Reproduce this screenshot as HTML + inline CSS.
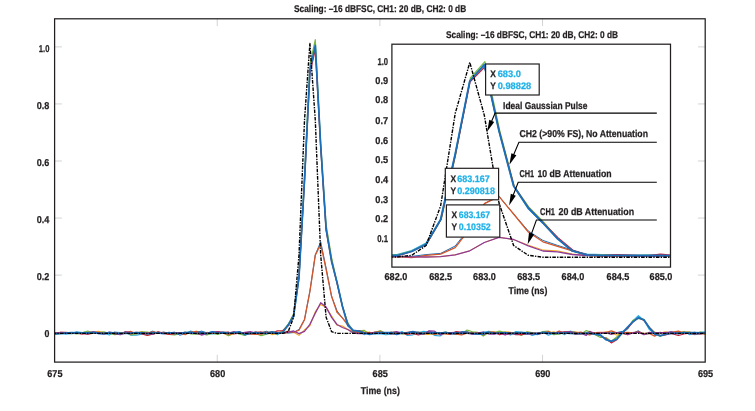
<!DOCTYPE html>
<html lang="en"><head><meta charset="utf-8"><title>Pulse chart</title>
<style>html,body{margin:0;padding:0;background:#fff}body{width:755px;height:411px;overflow:hidden}svg text{white-space:pre;text-rendering:geometricPrecision}</style></head>
<body>
<svg width="755" height="411" viewBox="0 0 755 411" style="display:block">
<rect x="0" y="0" width="755" height="411" fill="#ffffff"/>
<line x1="54.6" y1="46.90" x2="61.9" y2="46.90" stroke="#d1d3d4" stroke-width="1"/>
<line x1="705.2" y1="46.90" x2="697.9000000000001" y2="46.90" stroke="#d1d3d4" stroke-width="1"/>
<line x1="54.6" y1="103.95" x2="61.9" y2="103.95" stroke="#d1d3d4" stroke-width="1"/>
<line x1="705.2" y1="103.95" x2="697.9000000000001" y2="103.95" stroke="#d1d3d4" stroke-width="1"/>
<line x1="54.6" y1="161.00" x2="61.9" y2="161.00" stroke="#d1d3d4" stroke-width="1"/>
<line x1="705.2" y1="161.00" x2="697.9000000000001" y2="161.00" stroke="#d1d3d4" stroke-width="1"/>
<line x1="54.6" y1="218.05" x2="61.9" y2="218.05" stroke="#d1d3d4" stroke-width="1"/>
<line x1="705.2" y1="218.05" x2="697.9000000000001" y2="218.05" stroke="#d1d3d4" stroke-width="1"/>
<line x1="54.6" y1="275.10" x2="61.9" y2="275.10" stroke="#d1d3d4" stroke-width="1"/>
<line x1="705.2" y1="275.10" x2="697.9000000000001" y2="275.10" stroke="#d1d3d4" stroke-width="1"/>
<line x1="217.25" y1="18.8" x2="217.25" y2="26.1" stroke="#d1d3d4" stroke-width="1"/>
<line x1="217.25" y1="362.1" x2="217.25" y2="354.8" stroke="#d1d3d4" stroke-width="1"/>
<line x1="379.90" y1="18.8" x2="379.90" y2="26.1" stroke="#d1d3d4" stroke-width="1"/>
<line x1="379.90" y1="362.1" x2="379.90" y2="354.8" stroke="#d1d3d4" stroke-width="1"/>
<line x1="542.55" y1="18.8" x2="542.55" y2="26.1" stroke="#d1d3d4" stroke-width="1"/>
<line x1="542.55" y1="362.1" x2="542.55" y2="354.8" stroke="#d1d3d4" stroke-width="1"/>
<clipPath id="cm"><rect x="54.6" y="18.8" width="650.6" height="343.3"/></clipPath>
<g clip-path="url(#cm)">
<polyline points="44.3,333.4 49.7,332.5 55.1,333.4 60.6,333.5 66.0,334.2 71.4,333.3 76.8,331.8 82.2,332.6 87.7,331.9 93.1,332.8 98.5,332.6 103.9,332.9 109.3,335.0 114.8,332.1 120.2,332.5 125.6,332.5 131.0,335.1 136.4,335.1 141.9,334.1 147.3,333.6 152.7,332.7 158.1,333.2 163.5,332.5 169.0,333.8 174.4,332.7 179.8,332.6 185.2,333.9 190.6,331.1 196.1,332.5 201.5,331.7 206.9,333.8 212.3,334.0 217.7,333.5 223.2,333.2 228.6,332.4 234.0,332.8 239.4,333.6 244.8,334.2 250.3,333.7 255.7,331.7 261.1,334.0 266.5,332.8 271.9,332.6 277.4,334.8 282.8,331.6 288.2,324.0 293.6,317.2 299.0,278.4 304.5,180.1 309.9,71.6 315.3,45.4 320.7,145.5 326.1,229.5 331.6,259.6 337.0,282.2 342.4,305.6 347.8,323.3 353.2,330.4 358.7,331.2 364.1,334.6 369.5,332.4 374.9,333.8 380.3,333.6 385.8,334.6 391.2,334.2 396.6,333.7 402.0,331.6 407.4,335.5 412.9,334.8 418.3,332.8 423.7,331.4 429.1,332.4 434.5,335.3 440.0,336.0 445.4,332.7 450.8,334.0 456.2,334.4 461.6,332.0 467.1,331.8 472.5,332.9 477.9,332.8 483.3,332.6 488.7,331.3 494.2,332.4 499.6,332.5 505.0,332.5 510.4,334.9 515.8,331.6 521.3,332.0 526.7,332.5 532.1,335.4 537.5,333.8 542.9,332.1 548.4,335.2 553.8,333.3 559.2,331.9 564.6,334.6 570.0,331.2 575.5,332.5 580.9,333.3 586.3,332.7 589.7,332.3 595.1,333.3 600.5,334.4 605.9,339.7 611.3,342.0 616.8,337.4 622.2,333.1 627.6,328.9 633.0,320.7 638.4,315.7 643.9,320.3 649.3,329.5 654.7,333.3 660.1,335.6 665.5,334.6 671.0,331.5 678.4,334.3 683.9,331.6 689.3,334.6 694.7,334.0 700.1,332.4 705.5,331.8 711.0,332.1" fill="none" stroke="#2aace2" stroke-width="1.2" stroke-linejoin="round" />
<polyline points="44.3,332.8 49.7,333.0 55.1,333.0 60.6,332.6 66.0,333.3 71.4,332.9 76.8,332.6 82.2,333.1 87.7,332.4 93.1,332.6 98.5,331.4 103.9,332.8 109.3,333.5 114.8,333.4 120.2,333.1 125.6,332.3 131.0,333.4 136.4,332.8 141.9,331.5 147.3,335.3 152.7,334.1 158.1,332.9 163.5,332.8 169.0,332.9 174.4,333.5 179.8,332.5 185.2,332.9 190.6,333.6 196.1,331.0 201.5,332.8 206.9,333.6 212.3,333.2 217.7,333.3 223.2,333.2 228.6,335.5 234.0,333.5 239.4,332.2 244.8,334.1 250.3,333.2 255.7,332.3 261.1,332.4 266.5,331.8 271.9,334.6 277.4,333.4 282.8,333.4 288.2,332.6 293.6,332.2 299.0,335.4 304.5,329.8 309.9,325.9 315.3,311.6 320.7,304.4 326.1,307.4 331.6,316.1 337.0,325.1 342.4,326.0 347.8,329.5 353.2,331.5 358.7,333.2 364.1,331.8 369.5,332.2 374.9,333.4 380.3,330.7 385.8,334.1 391.2,332.3 396.6,333.3 402.0,333.0 407.4,332.5 412.9,332.9 418.3,332.5 423.7,334.4 429.1,334.4 434.5,332.6 440.0,333.9 445.4,334.0 450.8,334.4 456.2,332.0 461.6,332.5 467.1,331.8 472.5,333.9 477.9,333.1 483.3,334.1 488.7,332.4 494.2,331.7 499.6,333.9 505.0,331.7 510.4,332.2 515.8,333.3 521.3,334.8 526.7,331.9 532.1,333.2 537.5,333.6 542.9,332.8 548.4,332.7 553.8,331.8 559.2,334.0 564.6,332.1 570.0,331.8 575.5,331.8 580.9,333.3 586.3,333.7 589.7,332.2 595.1,333.0 600.5,333.0 605.9,331.9 611.3,333.3 616.8,335.1 622.2,333.4 627.6,334.7 633.0,332.4 638.4,332.8 643.9,333.6 649.3,333.1 654.7,332.4 660.1,333.0 665.5,331.9 671.0,333.2 678.4,332.2 683.9,331.8 689.3,331.7 694.7,333.7 700.1,332.3 705.5,334.7 711.0,334.0" fill="none" stroke="#f5a81c" stroke-width="1.1" stroke-linejoin="round" />
<polyline points="44.3,335.4 49.7,331.9 55.1,334.5 60.6,333.1 66.0,333.3 71.4,333.1 76.8,333.8 82.2,332.8 87.7,331.0 93.1,333.0 98.5,332.5 103.9,331.9 109.3,333.3 114.8,334.6 120.2,333.7 125.6,331.9 131.0,335.0 136.4,333.8 141.9,331.9 147.3,332.2 152.7,333.1 158.1,332.2 163.5,332.9 169.0,334.5 174.4,334.9 179.8,333.8 185.2,332.0 190.6,333.8 196.1,334.1 201.5,334.0 206.9,334.9 212.3,333.2 217.7,334.5 223.2,332.7 228.6,335.8 234.0,332.7 239.4,333.8 244.8,335.4 250.3,332.3 255.7,333.4 261.1,335.7 266.5,334.1 271.9,332.8 277.4,333.6 282.8,330.7 288.2,324.5 293.6,313.7 299.0,276.5 304.5,175.4 309.9,64.6 315.3,39.7 320.7,144.1 326.1,224.7 331.6,257.6 337.0,282.3 342.4,306.7 347.8,322.6 353.2,332.8 358.7,330.8 364.1,330.3 369.5,334.2 374.9,332.3 380.3,330.9 385.8,333.2 391.2,332.4 396.6,332.1 402.0,334.2 407.4,333.2 412.9,332.8 418.3,332.1 423.7,333.1 429.1,333.3 434.5,334.3 440.0,333.5 445.4,332.1 450.8,333.0 456.2,334.1 461.6,334.1 467.1,330.0 472.5,331.8 477.9,332.4 483.3,336.1 488.7,332.4 494.2,332.5 499.6,331.1 505.0,332.6 510.4,333.2 515.8,332.5 521.3,335.4 526.7,331.9 532.1,332.7 537.5,333.9 542.9,331.6 548.4,331.0 553.8,334.7 559.2,333.9 564.6,332.8 570.0,332.9 575.5,333.6 580.9,334.2 586.3,330.6 589.7,331.9 595.1,334.8 600.5,337.5 605.9,337.5 611.3,341.2 616.8,337.0 622.2,332.2 627.6,328.4 633.0,320.4 638.4,318.4 643.9,319.3 649.3,327.4 654.7,332.5 660.1,336.5 665.5,334.5 671.0,332.6 678.4,332.7 683.9,332.4 689.3,332.9 694.7,333.5 700.1,332.2 705.5,333.0 711.0,334.1" fill="none" stroke="#79b843" stroke-width="1.2" stroke-linejoin="round" />
<polyline points="44.3,333.6 49.7,333.1 55.1,333.2 60.6,333.0 66.0,333.1 71.4,332.9 76.8,333.2 82.2,334.2 87.7,332.7 93.1,332.2 98.5,332.7 103.9,333.3 109.3,332.7 114.8,333.9 120.2,334.7 125.6,333.0 131.0,333.9 136.4,332.5 141.9,334.0 147.3,335.4 152.7,334.0 158.1,331.7 163.5,333.4 169.0,334.3 174.4,333.8 179.8,332.6 185.2,332.7 190.6,332.9 196.1,331.8 201.5,332.5 206.9,333.1 212.3,332.6 217.7,331.7 223.2,332.3 228.6,332.2 234.0,334.0 239.4,333.2 244.8,332.5 250.3,333.4 255.7,332.2 261.1,332.6 266.5,332.3 271.9,333.3 277.4,330.9 282.8,330.6 288.2,325.9 293.6,315.0 299.0,276.6 304.5,182.6 309.9,73.8 315.3,49.5 320.7,148.3 326.1,230.4 331.6,261.5 337.0,283.4 342.4,306.1 347.8,324.4 353.2,330.8 358.7,330.6 364.1,332.6 369.5,332.9 374.9,333.1 380.3,333.3 385.8,332.5 391.2,334.0 396.6,333.6 402.0,333.1 407.4,334.4 412.9,333.5 418.3,334.8 423.7,333.7 429.1,332.6 434.5,332.6 440.0,333.1 445.4,333.3 450.8,334.3 456.2,331.5 461.6,332.7 467.1,332.1 472.5,333.9 477.9,333.3 483.3,334.7 488.7,332.4 494.2,332.3 499.6,334.8 505.0,333.1 510.4,332.6 515.8,334.6 521.3,334.7 526.7,334.0 532.1,333.6 537.5,334.3 542.9,333.1 548.4,332.9 553.8,332.5 559.2,332.5 564.6,331.8 570.0,332.1 575.5,334.2 580.9,333.5 586.3,334.0 589.7,334.0 595.1,333.5 600.5,335.7 605.9,338.5 611.3,342.9 616.8,339.7 622.2,333.1 627.6,328.1 633.0,322.1 638.4,317.5 643.9,320.4 649.3,327.3 654.7,332.8 660.1,335.5 665.5,334.8 671.0,333.3 678.4,335.5 683.9,334.0 689.3,333.1 694.7,334.4 700.1,332.9 705.5,333.0 711.0,334.3" fill="none" stroke="#c4203a" stroke-width="1.2" stroke-linejoin="round" />
<polyline points="44.3,333.3 49.7,333.4 55.1,332.7 60.6,332.6 66.0,333.1 71.4,333.8 76.8,333.2 82.2,333.2 87.7,332.5 93.1,332.8 98.5,333.7 103.9,334.3 109.3,333.4 114.8,333.7 120.2,334.1 125.6,333.2 131.0,333.5 136.4,333.0 141.9,332.6 147.3,333.5 152.7,331.1 158.1,333.4 163.5,332.1 169.0,333.0 174.4,332.1 179.8,335.2 185.2,333.8 190.6,332.9 196.1,332.6 201.5,331.1 206.9,332.8 212.3,332.0 217.7,332.4 223.2,332.3 228.6,332.7 234.0,333.2 239.4,332.7 244.8,334.0 250.3,332.1 255.7,334.0 261.1,332.9 266.5,331.3 271.9,333.3 277.4,333.1 282.8,332.1 288.2,333.1 293.6,332.6 299.0,329.4 304.5,319.5 309.9,291.3 315.3,254.9 320.7,241.7 326.1,268.1 331.6,296.5 337.0,310.8 342.4,318.1 347.8,323.5 353.2,331.7 358.7,332.5 364.1,333.5 369.5,333.7 374.9,332.5 380.3,331.9 385.8,333.1 391.2,333.7 396.6,332.4 402.0,333.1 407.4,332.8 412.9,331.8 418.3,332.1 423.7,333.6 429.1,331.1 434.5,333.1 440.0,332.4 445.4,333.7 450.8,333.1 456.2,334.6 461.6,331.5 467.1,331.9 472.5,334.2 477.9,334.4 483.3,334.5 488.7,332.1 494.2,333.5 499.6,333.2 505.0,333.4 510.4,333.2 515.8,334.0 521.3,333.1 526.7,334.4 532.1,333.2 537.5,332.8 542.9,332.7 548.4,333.3 553.8,333.9 559.2,333.0 564.6,333.5 570.0,331.7 575.5,332.4 580.9,333.2 586.3,333.5 589.7,333.7 595.1,333.9 600.5,333.4 605.9,332.8 611.3,332.7 616.8,332.6 622.2,331.3 627.6,333.7 633.0,333.1 638.4,330.7 643.9,334.7 649.3,333.6 654.7,333.0 660.1,333.0 665.5,332.7 671.0,333.3 678.4,332.8 683.9,333.1 689.3,332.4 694.7,334.7 700.1,333.9 705.5,333.1 711.0,334.0" fill="none" stroke="#1b6fb8" stroke-width="1.0" stroke-linejoin="round" />
<polyline points="44.3,334.0 49.7,332.6 55.1,333.7 60.6,332.5 66.0,332.5 71.4,332.8 76.8,332.7 82.2,333.2 87.7,334.3 93.1,333.1 98.5,332.7 103.9,333.6 109.3,333.2 114.8,332.4 120.2,333.9 125.6,332.5 131.0,331.5 136.4,333.6 141.9,333.0 147.3,333.2 152.7,331.8 158.1,332.8 163.5,332.3 169.0,333.7 174.4,333.1 179.8,333.1 185.2,334.6 190.6,331.8 196.1,332.3 201.5,334.6 206.9,332.5 212.3,333.2 217.7,332.7 223.2,332.8 228.6,334.4 234.0,333.3 239.4,331.8 244.8,333.6 250.3,334.0 255.7,334.3 261.1,334.2 266.5,332.8 271.9,331.6 277.4,332.7 282.8,332.9 288.2,331.2 293.6,332.4 299.0,330.2 304.5,319.6 309.9,291.4 315.3,255.1 320.7,244.2 326.1,269.3 331.6,296.3 337.0,312.2 342.4,317.9 347.8,325.2 353.2,330.7 358.7,333.2 364.1,333.2 369.5,333.4 374.9,332.2 380.3,331.9 385.8,333.4 391.2,332.4 396.6,333.8 402.0,333.0 407.4,332.4 412.9,331.8 418.3,333.4 423.7,333.2 429.1,332.9 434.5,334.4 440.0,333.1 445.4,333.7 450.8,332.8 456.2,334.1 461.6,334.8 467.1,333.1 472.5,332.9 477.9,333.6 483.3,332.3 488.7,333.3 494.2,333.6 499.6,332.7 505.0,334.5 510.4,333.7 515.8,333.1 521.3,332.4 526.7,333.2 532.1,332.8 537.5,333.7 542.9,332.8 548.4,331.7 553.8,333.7 559.2,331.0 564.6,333.7 570.0,333.1 575.5,332.9 580.9,332.2 586.3,334.2 589.7,334.9 595.1,332.6 600.5,332.4 605.9,332.6 611.3,330.8 616.8,332.9 622.2,332.9 627.6,332.3 633.0,332.8 638.4,331.7 643.9,334.2 649.3,333.4 654.7,336.1 660.1,332.4 665.5,333.4 671.0,332.3 678.4,331.2 683.9,333.1 689.3,333.3 694.7,333.5 700.1,333.8 705.5,333.6 711.0,332.5" fill="none" stroke="#d4562a" stroke-width="1.3" stroke-linejoin="round" />
<polyline points="44.3,333.1 49.7,333.0 55.1,333.3 60.6,332.3 66.0,332.7 71.4,333.2 76.8,332.5 82.2,333.2 87.7,334.1 93.1,331.8 98.5,332.7 103.9,333.9 109.3,332.2 114.8,332.8 120.2,334.5 125.6,331.7 131.0,332.8 136.4,332.3 141.9,332.9 147.3,333.2 152.7,334.4 158.1,332.3 163.5,333.1 169.0,333.3 174.4,332.8 179.8,333.0 185.2,332.5 190.6,333.4 196.1,333.1 201.5,335.0 206.9,333.5 212.3,332.5 217.7,331.9 223.2,333.4 228.6,333.2 234.0,331.7 239.4,333.4 244.8,332.5 250.3,331.6 255.7,333.1 261.1,332.0 266.5,333.7 271.9,332.9 277.4,333.2 282.8,333.0 288.2,332.1 293.6,331.0 299.0,333.7 304.5,331.3 309.9,324.3 315.3,313.1 320.7,302.7 326.1,307.1 331.6,317.4 337.0,324.5 342.4,327.5 347.8,329.5 353.2,333.0 358.7,333.7 364.1,333.6 369.5,333.4 374.9,332.4 380.3,333.0 385.8,333.4 391.2,332.6 396.6,331.7 402.0,333.1 407.4,332.8 412.9,332.0 418.3,332.9 423.7,334.2 429.1,330.9 434.5,331.2 440.0,334.8 445.4,333.1 450.8,332.7 456.2,332.3 461.6,332.5 467.1,333.3 472.5,334.0 477.9,333.0 483.3,332.2 488.7,334.0 494.2,334.0 499.6,333.1 505.0,334.8 510.4,333.3 515.8,333.5 521.3,332.7 526.7,333.7 532.1,333.9 537.5,333.4 542.9,333.1 548.4,333.7 553.8,333.1 559.2,332.4 564.6,332.1 570.0,331.6 575.5,333.8 580.9,333.5 586.3,335.3 589.7,331.4 595.1,333.7 600.5,333.1 605.9,332.6 611.3,334.3 616.8,332.7 622.2,333.1 627.6,334.7 633.0,332.8 638.4,332.1 643.9,334.7 649.3,332.4 654.7,332.9 660.1,332.7 665.5,332.7 671.0,332.0 678.4,333.3 683.9,332.3 689.3,333.5 694.7,332.5 700.1,333.8 705.5,333.2 711.0,331.6" fill="none" stroke="#8f3a96" stroke-width="1.3" stroke-linejoin="round" />
<polyline points="44.3,332.8 49.7,333.2 55.1,333.8 60.6,333.6 66.0,333.0 71.4,332.6 76.8,332.9 82.2,332.8 87.7,333.1 93.1,332.3 98.5,333.3 103.9,333.4 109.3,332.6 114.8,333.1 120.2,333.3 125.6,333.4 131.0,333.2 136.4,332.7 141.9,332.9 147.3,333.8 152.7,332.9 158.1,333.0 163.5,333.7 169.0,332.7 174.4,333.3 179.8,333.3 185.2,332.6 190.6,332.3 196.1,333.5 201.5,332.8 206.9,333.6 212.3,331.8 217.7,333.4 223.2,332.4 228.6,333.5 234.0,332.6 239.4,331.8 244.8,334.6 250.3,333.4 255.7,332.8 261.1,333.2 266.5,333.5 271.9,331.9 277.4,333.1 282.8,332.6 288.2,325.1 293.6,315.8 299.0,277.3 304.5,180.3 309.9,70.6 315.3,45.3 320.7,145.4 326.1,228.6 331.6,261.6 337.0,282.2 342.4,306.3 347.8,325.5 353.2,330.3 358.7,331.1 364.1,332.7 369.5,334.4 374.9,333.3 380.3,332.6 385.8,332.7 391.2,332.6 396.6,334.5 402.0,333.0 407.4,332.8 412.9,331.6 418.3,333.7 423.7,333.3 429.1,333.1 434.5,332.6 440.0,333.4 445.4,332.4 450.8,333.6 456.2,332.9 461.6,333.4 467.1,333.0 472.5,333.5 477.9,334.0 483.3,332.5 488.7,332.9 494.2,333.4 499.6,333.0 505.0,332.5 510.4,333.7 515.8,333.2 521.3,332.8 526.7,332.8 532.1,333.3 537.5,334.3 542.9,332.4 548.4,332.9 553.8,333.1 559.2,333.3 564.6,332.9 570.0,333.3 575.5,333.7 580.9,333.5 586.3,333.4 589.7,333.5 595.1,334.1 600.5,335.3 605.9,339.7 611.3,341.1 616.8,339.2 622.2,332.9 627.6,327.1 633.0,321.7 638.4,317.9 643.9,319.7 649.3,327.8 654.7,334.1 660.1,335.8 665.5,334.2 671.0,333.4 678.4,333.1 683.9,332.7 689.3,332.7 694.7,332.6 700.1,332.8 705.5,333.3 711.0,333.1" fill="none" stroke="#1b6fb8" stroke-width="1.7" stroke-linejoin="round" />
<polyline points="52.6,333.4 277.4,333.4 282.8,333.4 288.2,331.7 293.6,317.2 299.0,255.1 304.5,120.3 309.9,43.4 315.3,120.3 320.7,255.1 326.1,317.2 331.6,331.7 337.0,333.4 342.4,333.4 707.2,333.4" fill="none" stroke="#000000" stroke-width="1.4" stroke-linejoin="round" stroke-dasharray="3.6 1.2 1.4 1.2"/>
</g>
<rect x="54.6" y="18.8" width="650.6" height="343.3" fill="none" stroke="#231f20" stroke-width="1.25"/>
<text x="380.1" y="12.4" font-family='"Liberation Sans", sans-serif' font-size="9.8" font-weight="700" fill="#231f20" stroke="#231f20" stroke-width="0.25" text-anchor="middle" textLength="172.2" lengthAdjust="spacingAndGlyphs">Scaling: –16 dBFSC, CH1: 20 dB, CH2: 0 dB</text>
<text x="49.4" y="51.6" font-family='"Liberation Sans", sans-serif' font-size="10.0" font-weight="700" fill="#231f20" stroke="#231f20" stroke-width="0.25" text-anchor="end" textLength="10.6" lengthAdjust="spacingAndGlyphs">1.0</text>
<text x="49.4" y="108.7" font-family='"Liberation Sans", sans-serif' font-size="10.0" font-weight="700" fill="#231f20" stroke="#231f20" stroke-width="0.25" text-anchor="end" textLength="12.6" lengthAdjust="spacingAndGlyphs">0.8</text>
<text x="49.4" y="165.8" font-family='"Liberation Sans", sans-serif' font-size="10.0" font-weight="700" fill="#231f20" stroke="#231f20" stroke-width="0.25" text-anchor="end" textLength="12.6" lengthAdjust="spacingAndGlyphs">0.6</text>
<text x="49.4" y="222.8" font-family='"Liberation Sans", sans-serif' font-size="10.0" font-weight="700" fill="#231f20" stroke="#231f20" stroke-width="0.25" text-anchor="end" textLength="12.6" lengthAdjust="spacingAndGlyphs">0.4</text>
<text x="49.4" y="279.8" font-family='"Liberation Sans", sans-serif' font-size="10.0" font-weight="700" fill="#231f20" stroke="#231f20" stroke-width="0.25" text-anchor="end" textLength="12.6" lengthAdjust="spacingAndGlyphs">0.2</text>
<text x="49.3" y="336.6" font-family='"Liberation Sans", sans-serif' font-size="10.0" font-weight="700" fill="#231f20" stroke="#231f20" stroke-width="0.25" text-anchor="end" textLength="4.9" lengthAdjust="spacingAndGlyphs">0</text>
<text x="54.9" y="376.9" font-family='"Liberation Sans", sans-serif' font-size="10.0" font-weight="700" fill="#231f20" stroke="#231f20" stroke-width="0.25" text-anchor="middle" textLength="15.2" lengthAdjust="spacingAndGlyphs">675</text>
<text x="217.6" y="376.9" font-family='"Liberation Sans", sans-serif' font-size="10.0" font-weight="700" fill="#231f20" stroke="#231f20" stroke-width="0.25" text-anchor="middle" textLength="15.2" lengthAdjust="spacingAndGlyphs">680</text>
<text x="380.2" y="376.9" font-family='"Liberation Sans", sans-serif' font-size="10.0" font-weight="700" fill="#231f20" stroke="#231f20" stroke-width="0.25" text-anchor="middle" textLength="15.2" lengthAdjust="spacingAndGlyphs">685</text>
<text x="542.8" y="376.9" font-family='"Liberation Sans", sans-serif' font-size="10.0" font-weight="700" fill="#231f20" stroke="#231f20" stroke-width="0.25" text-anchor="middle" textLength="15.2" lengthAdjust="spacingAndGlyphs">690</text>
<text x="705.5" y="376.9" font-family='"Liberation Sans", sans-serif' font-size="10.0" font-weight="700" fill="#231f20" stroke="#231f20" stroke-width="0.25" text-anchor="middle" textLength="15.2" lengthAdjust="spacingAndGlyphs">695</text>
<text x="380.3" y="393.5" font-family='"Liberation Sans", sans-serif' font-size="10.0" font-weight="700" fill="#231f20" stroke="#231f20" stroke-width="0.25" text-anchor="middle" textLength="39.1" lengthAdjust="spacingAndGlyphs">Time (ns)</text>
<rect x="391.9" y="44.2" width="278.6" height="222.90000000000003" fill="#ffffff" stroke="none"/>
<clipPath id="ci"><rect x="391.9" y="44.2" width="278.6" height="222.90000000000003"/></clipPath>
<g clip-path="url(#ci)">
<polyline points="382.4,255.0 397.0,254.6 411.6,250.6 426.1,243.2 440.6,219.5 455.2,154.0 469.8,81.0 484.3,65.5 499.0,131.0 513.6,186.0 528.3,208.8 542.9,223.0 557.6,238.8 572.3,251.0 586.9,254.2 601.6,254.6 616.2,255.4 630.9,255.5 645.6,255.3 660.2,255.5 674.9,255.6 689.5,255.4" fill="none" stroke="#2aace2" stroke-width="1.3" stroke-linejoin="round" />
<polyline points="382.4,256.8 397.0,256.7 411.6,256.9 426.1,257.0 440.6,256.6 455.2,254.9 469.8,250.8 484.3,242.5 499.0,237.3 513.6,239.5 528.3,245.2 542.9,250.0 557.6,250.9 572.3,254.0 586.9,255.5 601.6,256.4 616.2,255.9 630.9,256.3 645.6,256.0 660.2,255.8 674.9,255.9 689.5,255.9" fill="none" stroke="#f5a81c" stroke-width="1.0" stroke-linejoin="round" />
<polyline points="383.1,255.2 397.6,254.8 412.2,250.8 426.7,243.6 441.2,219.5 455.8,154.0 470.4,78.0 484.9,61.6 499.6,130.0 514.2,186.0 528.9,207.2 543.5,222.0 558.2,238.8 572.9,251.0 587.5,254.9 602.2,254.8 616.8,255.0 631.5,255.6 646.2,255.0 660.8,255.5 675.5,255.6 690.1,255.4" fill="none" stroke="#79b843" stroke-width="1.2" stroke-linejoin="round" />
<polyline points="382.8,256.4 397.4,256.0 411.9,251.5 426.5,244.2 441.0,219.5 455.6,154.0 470.1,81.8 484.7,67.0 499.4,131.6 514.0,186.0 528.7,208.0 543.3,223.0 558.0,237.6 572.7,250.0 587.3,254.9 602.0,255.6 616.6,254.6 631.3,255.2 646.0,255.8 660.6,254.2 675.3,255.3 689.9,255.4" fill="none" stroke="#c4203a" stroke-width="1.2" stroke-linejoin="round" />
<polyline points="382.4,256.3 397.0,256.5 411.6,256.4 426.1,254.6 440.6,253.4 455.2,246.0 469.8,227.6 484.3,203.7 499.0,196.4 513.6,214.0 528.3,231.0 542.9,240.4 557.6,245.4 572.3,250.0 586.9,255.2 601.6,255.9 616.2,256.0 630.9,255.8 645.6,256.2 660.2,255.6 674.9,256.0 689.5,256.0" fill="none" stroke="#1b6fb8" stroke-width="1.0" stroke-linejoin="round" />
<polyline points="382.4,256.3 397.0,256.5 411.6,257.6 426.1,255.4 440.6,254.2 455.2,247.7 469.8,228.9 484.3,203.7 499.0,196.4 513.6,214.0 528.3,232.0 542.9,241.8 557.6,246.3 572.3,250.8 586.9,255.2 601.6,255.9 616.2,256.0 630.9,255.8 645.6,256.2 660.2,255.6 674.9,256.0 689.5,256.0" fill="none" stroke="#d4562a" stroke-width="1.3" stroke-linejoin="round" />
<polyline points="382.4,256.8 397.0,256.7 411.6,256.9 426.1,257.0 440.6,256.6 455.2,254.9 469.8,250.8 484.3,242.5 499.0,237.3 513.6,239.5 528.3,245.8 542.9,251.0 557.6,251.8 572.3,254.5 586.9,255.5 601.6,255.8 616.2,255.9 630.9,255.7 645.6,256.0 660.2,255.8 674.9,255.9 689.5,255.9" fill="none" stroke="#8f3a96" stroke-width="1.3" stroke-linejoin="round" />
<polyline points="382.4,256.0 397.0,255.5 411.6,251.5 426.1,244.2 440.6,219.5 455.2,154.0 469.8,81.0 484.3,64.5 499.0,131.0 513.6,186.0 528.3,208.0 542.9,223.0 557.6,238.8 572.3,251.0 586.9,254.9 601.6,255.3 616.2,255.4 630.9,255.5 645.6,255.3 660.2,255.5 674.9,255.6 689.5,255.4" fill="none" stroke="#1b6fb8" stroke-width="1.8" stroke-linejoin="round" />
<polyline points="382.4,257.2 397.0,257.0 411.6,255.4 426.1,245.5 440.6,206.0 455.2,113.5 469.8,62.4 484.3,115.2 499.0,203.0 513.6,245.5 528.3,255.3 542.9,257.2 557.6,257.2 572.3,257.2 586.9,257.2 601.6,257.2 616.2,257.2 630.9,257.2 645.6,257.2 660.2,257.2 674.9,257.2 689.5,257.2" fill="none" stroke="#000000" stroke-width="1.4" stroke-linejoin="round" stroke-dasharray="3.6 1.2 1.4 1.2"/>
</g>
<rect x="391.9" y="44.2" width="278.6" height="222.90000000000003" fill="none" stroke="#231f20" stroke-width="1.25"/>
<text x="532.0" y="37.6" font-family='"Liberation Sans", sans-serif' font-size="9.8" font-weight="700" fill="#231f20" stroke="#231f20" stroke-width="0.25" text-anchor="middle" textLength="172.0" lengthAdjust="spacingAndGlyphs">Scaling: –16 dBFSC, CH1: 20 dB, CH2: 0 dB</text>
<text x="388.1" y="64.6" font-family='"Liberation Sans", sans-serif' font-size="10.0" font-weight="700" fill="#231f20" stroke="#231f20" stroke-width="0.25" text-anchor="end" textLength="10.6" lengthAdjust="spacingAndGlyphs">1.0</text>
<text x="388.1" y="84.1" font-family='"Liberation Sans", sans-serif' font-size="10.0" font-weight="700" fill="#231f20" stroke="#231f20" stroke-width="0.25" text-anchor="end" textLength="12.8" lengthAdjust="spacingAndGlyphs">0.9</text>
<text x="388.1" y="103.3" font-family='"Liberation Sans", sans-serif' font-size="10.0" font-weight="700" fill="#231f20" stroke="#231f20" stroke-width="0.25" text-anchor="end" textLength="12.8" lengthAdjust="spacingAndGlyphs">0.8</text>
<text x="388.1" y="124.0" font-family='"Liberation Sans", sans-serif' font-size="10.0" font-weight="700" fill="#231f20" stroke="#231f20" stroke-width="0.25" text-anchor="end" textLength="12.8" lengthAdjust="spacingAndGlyphs">0.7</text>
<text x="388.1" y="144.4" font-family='"Liberation Sans", sans-serif' font-size="10.0" font-weight="700" fill="#231f20" stroke="#231f20" stroke-width="0.25" text-anchor="end" textLength="12.8" lengthAdjust="spacingAndGlyphs">0.6</text>
<text x="388.1" y="162.9" font-family='"Liberation Sans", sans-serif' font-size="10.0" font-weight="700" fill="#231f20" stroke="#231f20" stroke-width="0.25" text-anchor="end" textLength="12.8" lengthAdjust="spacingAndGlyphs">0.5</text>
<text x="388.1" y="182.8" font-family='"Liberation Sans", sans-serif' font-size="10.0" font-weight="700" fill="#231f20" stroke="#231f20" stroke-width="0.25" text-anchor="end" textLength="12.8" lengthAdjust="spacingAndGlyphs">0.4</text>
<text x="388.1" y="202.6" font-family='"Liberation Sans", sans-serif' font-size="10.0" font-weight="700" fill="#231f20" stroke="#231f20" stroke-width="0.25" text-anchor="end" textLength="12.8" lengthAdjust="spacingAndGlyphs">0.3</text>
<text x="388.1" y="222.0" font-family='"Liberation Sans", sans-serif' font-size="10.0" font-weight="700" fill="#231f20" stroke="#231f20" stroke-width="0.25" text-anchor="end" textLength="12.8" lengthAdjust="spacingAndGlyphs">0.2</text>
<text x="388.1" y="241.7" font-family='"Liberation Sans", sans-serif' font-size="10.0" font-weight="700" fill="#231f20" stroke="#231f20" stroke-width="0.25" text-anchor="end" textLength="10.8" lengthAdjust="spacingAndGlyphs">0.1</text>
<text x="395.9" y="279.8" font-family='"Liberation Sans", sans-serif' font-size="10.0" font-weight="700" fill="#231f20" stroke="#231f20" stroke-width="0.25" text-anchor="middle" textLength="22.8" lengthAdjust="spacingAndGlyphs">682.0</text>
<text x="440.7" y="279.8" font-family='"Liberation Sans", sans-serif' font-size="10.0" font-weight="700" fill="#231f20" stroke="#231f20" stroke-width="0.25" text-anchor="middle" textLength="22.8" lengthAdjust="spacingAndGlyphs">682.5</text>
<text x="484.5" y="279.8" font-family='"Liberation Sans", sans-serif' font-size="10.0" font-weight="700" fill="#231f20" stroke="#231f20" stroke-width="0.25" text-anchor="middle" textLength="22.8" lengthAdjust="spacingAndGlyphs">683.0</text>
<text x="528.7" y="279.8" font-family='"Liberation Sans", sans-serif' font-size="10.0" font-weight="700" fill="#231f20" stroke="#231f20" stroke-width="0.25" text-anchor="middle" textLength="22.8" lengthAdjust="spacingAndGlyphs">683.5</text>
<text x="573.0" y="279.8" font-family='"Liberation Sans", sans-serif' font-size="10.0" font-weight="700" fill="#231f20" stroke="#231f20" stroke-width="0.25" text-anchor="middle" textLength="22.8" lengthAdjust="spacingAndGlyphs">684.0</text>
<text x="618.0" y="279.8" font-family='"Liberation Sans", sans-serif' font-size="10.0" font-weight="700" fill="#231f20" stroke="#231f20" stroke-width="0.25" text-anchor="middle" textLength="22.8" lengthAdjust="spacingAndGlyphs">684.5</text>
<text x="661.0" y="279.8" font-family='"Liberation Sans", sans-serif' font-size="10.0" font-weight="700" fill="#231f20" stroke="#231f20" stroke-width="0.25" text-anchor="middle" textLength="22.8" lengthAdjust="spacingAndGlyphs">685.0</text>
<text x="528.0" y="294.0" font-family='"Liberation Sans", sans-serif' font-size="10.0" font-weight="700" fill="#231f20" stroke="#231f20" stroke-width="0.25" text-anchor="middle" textLength="38.8" lengthAdjust="spacingAndGlyphs">Time (ns)</text>
<polyline points="656.8,113.1 495.1,113.1 491.0,122.7" fill="none" stroke="#000" stroke-width="1.1" stroke-linejoin="miter"/>
<polygon points="487.2,131.4 489.3,119.8 494.2,121.9" fill="#000"/>
<polyline points="656.8,142.3 518.9,142.3 513.1,156.0" fill="none" stroke="#000" stroke-width="1.1" stroke-linejoin="miter"/>
<polygon points="509.4,164.8 511.4,153.2 516.4,155.3" fill="#000"/>
<polyline points="656.8,182.3 518.2,182.3 512.6,196.7" fill="none" stroke="#000" stroke-width="1.1" stroke-linejoin="miter"/>
<polygon points="509.1,205.5 510.8,193.8 515.8,195.8" fill="#000"/>
<polyline points="656.8,220.0 536.4,220.0 530.9,235.4" fill="none" stroke="#000" stroke-width="1.1" stroke-linejoin="miter"/>
<polygon points="527.7,244.3 529.0,232.6 534.1,234.4" fill="#000"/>
<text x="503.1" y="109.0" font-family='"Liberation Sans", sans-serif' font-size="10.0" font-weight="700" fill="#231f20" stroke="#231f20" stroke-width="0.25" text-anchor="start" textLength="84.3" lengthAdjust="spacingAndGlyphs">Ideal Gaussian Pulse</text>
<text x="519.5" y="136.9" font-family='"Liberation Sans", sans-serif' font-size="10.0" font-weight="700" fill="#231f20" stroke="#231f20" stroke-width="0.25" text-anchor="start" textLength="128.5" lengthAdjust="spacingAndGlyphs">CH2 (&gt;90% FS), No Attenuation</text>
<text x="519.5" y="176.6" font-family='"Liberation Sans", sans-serif' font-size="10.0" font-weight="700" fill="#231f20" stroke="#231f20" stroke-width="0.25" text-anchor="start" textLength="14.7" lengthAdjust="spacingAndGlyphs">CH1</text>
<text x="537.4" y="176.6" font-family='"Liberation Sans", sans-serif' font-size="10.0" font-weight="700" fill="#231f20" stroke="#231f20" stroke-width="0.25" text-anchor="start" textLength="74.3" lengthAdjust="spacingAndGlyphs">10 dB Attenuation</text>
<text x="540.1" y="214.8" font-family='"Liberation Sans", sans-serif' font-size="10.0" font-weight="700" fill="#231f20" stroke="#231f20" stroke-width="0.25" text-anchor="start" textLength="14.8" lengthAdjust="spacingAndGlyphs">CH1</text>
<text x="558.6" y="214.8" font-family='"Liberation Sans", sans-serif' font-size="10.0" font-weight="700" fill="#231f20" stroke="#231f20" stroke-width="0.25" text-anchor="start" textLength="75.5" lengthAdjust="spacingAndGlyphs">20 dB Attenuation</text>
<rect x="485.6" y="64.0" width="53.6" height="31.0" fill="#fff" stroke="#231f20" stroke-width="1.2"/>
<text x="490.2" y="76.8" font-family='"Liberation Sans", sans-serif' font-size="9.4" font-weight="700" fill="#231f20" stroke="#231f20" stroke-width="0.25" text-anchor="start" textLength="5.6" lengthAdjust="spacingAndGlyphs">X</text>
<text x="497.7" y="76.8" font-family='"Liberation Sans", sans-serif' font-size="9.4" font-weight="700" fill="#1eb1e7" stroke="#1eb1e7" stroke-width="0.25" text-anchor="start" textLength="23.3" lengthAdjust="spacingAndGlyphs">683.0</text>
<text x="490.2" y="88.9" font-family='"Liberation Sans", sans-serif' font-size="9.4" font-weight="700" fill="#231f20" stroke="#231f20" stroke-width="0.25" text-anchor="start" textLength="5.6" lengthAdjust="spacingAndGlyphs">Y</text>
<text x="497.7" y="88.9" font-family='"Liberation Sans", sans-serif' font-size="9.4" font-weight="700" fill="#1eb1e7" stroke="#1eb1e7" stroke-width="0.25" text-anchor="start" textLength="33.5" lengthAdjust="spacingAndGlyphs">0.98828</text>
<rect x="445.3" y="168.3" width="53.3" height="31.5" fill="#fff" stroke="#231f20" stroke-width="1.2"/>
<text x="450.5" y="181.7" font-family='"Liberation Sans", sans-serif' font-size="9.4" font-weight="700" fill="#231f20" stroke="#231f20" stroke-width="0.25" text-anchor="start" textLength="5.6" lengthAdjust="spacingAndGlyphs">X</text>
<text x="457.3" y="181.7" font-family='"Liberation Sans", sans-serif' font-size="9.4" font-weight="700" fill="#1eb1e7" stroke="#1eb1e7" stroke-width="0.25" text-anchor="start" textLength="32.5" lengthAdjust="spacingAndGlyphs">683.167</text>
<text x="450.5" y="193.7" font-family='"Liberation Sans", sans-serif' font-size="9.4" font-weight="700" fill="#231f20" stroke="#231f20" stroke-width="0.25" text-anchor="start" textLength="5.6" lengthAdjust="spacingAndGlyphs">Y</text>
<text x="457.3" y="193.7" font-family='"Liberation Sans", sans-serif' font-size="9.4" font-weight="700" fill="#1eb1e7" stroke="#1eb1e7" stroke-width="0.25" text-anchor="start" textLength="37.6" lengthAdjust="spacingAndGlyphs">0.290818</text>
<rect x="446.4" y="204.9" width="53.4" height="32.2" fill="#fff" stroke="#231f20" stroke-width="1.2"/>
<text x="451.5" y="218.3" font-family='"Liberation Sans", sans-serif' font-size="9.4" font-weight="700" fill="#231f20" stroke="#231f20" stroke-width="0.25" text-anchor="start" textLength="5.6" lengthAdjust="spacingAndGlyphs">X</text>
<text x="458.8" y="218.3" font-family='"Liberation Sans", sans-serif' font-size="9.4" font-weight="700" fill="#1eb1e7" stroke="#1eb1e7" stroke-width="0.25" text-anchor="start" textLength="31.4" lengthAdjust="spacingAndGlyphs">683.167</text>
<text x="451.5" y="230.3" font-family='"Liberation Sans", sans-serif' font-size="9.4" font-weight="700" fill="#231f20" stroke="#231f20" stroke-width="0.25" text-anchor="start" textLength="5.6" lengthAdjust="spacingAndGlyphs">Y</text>
<text x="458.8" y="230.3" font-family='"Liberation Sans", sans-serif' font-size="9.4" font-weight="700" fill="#1eb1e7" stroke="#1eb1e7" stroke-width="0.25" text-anchor="start" textLength="32.0" lengthAdjust="spacingAndGlyphs">0.10352</text>
</svg>
</body></html>
